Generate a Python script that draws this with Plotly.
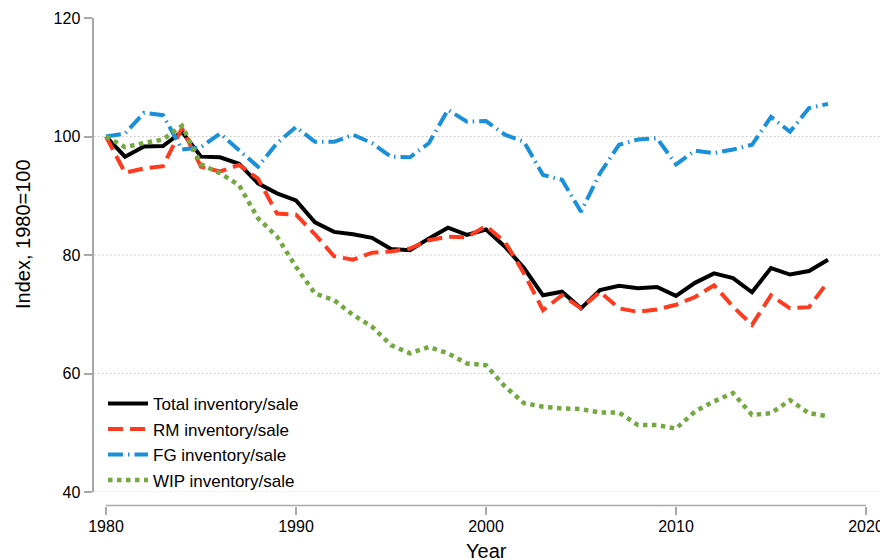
import plotly.graph_objects as go

years = list(range(1980, 2019))

total = [100.0, 96.6, 98.3, 98.4, 100.8, 96.6, 96.5, 95.4, 92.1, 90.4,
         89.2, 85.5, 83.9, 83.5, 82.9, 81.0, 80.8, 82.8, 84.6, 83.4,
         84.3, 81.4, 77.8, 73.2, 73.8, 71.0, 74.1, 74.8, 74.4, 74.6,
         73.1, 75.3, 76.9, 76.1, 73.7, 77.8, 76.7, 77.3, 79.2]

rm = [100.0, 93.9, 94.6, 95.0, 101.4, 94.9, 94.1, 95.2, 92.9, 87.0,
      86.8, 83.5, 79.8, 79.2, 80.4, 80.6, 81.1, 82.5, 83.1, 83.0,
      84.9, 82.2, 76.9, 70.7, 73.2, 71.0, 73.8, 71.0, 70.4, 70.8,
      71.6, 72.9, 74.9, 71.3, 68.2, 73.2, 71.0, 71.2, 75.5]

fg = [100.0, 100.5, 104.0, 103.6, 97.8, 98.2, 100.5, 97.7, 94.9, 98.9,
      101.6, 99.1, 99.1, 100.3, 98.9, 96.6, 96.5, 98.9, 104.5, 102.5,
      102.6, 100.3, 99.1, 93.5, 92.7, 87.3, 93.8, 98.6, 99.5, 99.7,
      95.3, 97.6, 97.2, 97.8, 98.6, 103.3, 100.8, 104.8, 105.5]

wip = [100.0, 98.2, 98.9, 99.5, 101.8, 95.3, 93.8, 91.8, 86.2, 83.1,
       78.0, 73.5, 72.4, 69.9, 67.9, 64.8, 63.4, 64.5, 63.4, 61.7,
       61.4, 57.8, 55.0, 54.4, 54.1, 54.0, 53.4, 53.4, 51.3, 51.3,
       50.7, 53.6, 55.3, 56.7, 53.0, 53.3, 55.5, 53.3, 52.8]

series_names = ["Total inventory/sale", "RM inventory/sale",
                "FG inventory/sale", "WIP inventory/sale"]

x_ticks = [1980, 1990, 2000, 2010, 2020]
y_ticks = [40, 60, 80, 100, 120]
grid_vals = [40, 60, 80, 100]

# page body has an 8px margin; figure is shrunk so screen coords match
OFF = 8
SW, SH = 888, 559
ML, MR, MT, MB = 80, 4, 18, 40          # in screen coordinates
PW = SW - ML - MR
PH = SH - MT - MB

def px_x(p):
    return (p - ML) / PW

def px_y(p):
    return (SH - MB - p) / PH

AXIS_GRAY = "#a8a8a8"
FONT = "Liberation Sans, Arial, sans-serif"

styles = [
    dict(color="#000000", width=4, dash="solid"),
    dict(color="#ff3b1f", width=4, dash="15px,7px"),
    dict(color="#1a90d8", width=4, dash="15px,5px,1.5px,5px"),
    dict(color="#74a942", width=4.5, dash="4.5px,4.5px"),
]

fig = go.Figure()
legend_ids = ["legend", "legend2", "legend3", "legend4"]
for vals, name, st, lg in zip([total, rm, fg, wip], series_names, styles, legend_ids):
    fig.add_trace(go.Scatter(x=years, y=vals, mode="lines", name=name,
                             line=dict(color=st["color"], width=st["width"], dash=st["dash"]),
                             legend=lg))

row_centers = [404, 429.5, 455, 480.5]
legend_common = dict(bgcolor="rgba(0,0,0,0)", borderwidth=0,
                     font=dict(family=FONT, size=17, color="#000"),
                     xanchor="left", yanchor="middle", x=px_x(103), itemwidth=40)
layout_legends = {}
for lg, yc in zip(legend_ids, row_centers):
    layout_legends[lg] = dict(legend_common, y=px_y(yc))

shapes = []
for v in grid_vals:
    shapes.append(dict(type="line", xref="paper", yref="y", x0=px_x(94), x1=1,
                       y0=v, y1=v, layer="below",
                       line=dict(color="#c4c4c4", width=1, dash="1.5px,2.5px")))
shapes.append(dict(type="line", xref="x", yref="paper", x0=x_ticks[0], x1=x_ticks[-1],
                   y0=px_y(505.5), y1=px_y(505.5), line=dict(color=AXIS_GRAY, width=1.5)))

xmin = 1980 - (106 - 94) / 19.0
xmax = 1980 + (884 - 106) / 19.0

fig.update_layout(
    width=SW - OFF, height=SH - OFF,
    margin=dict(l=ML - OFF, r=MR, t=MT - OFF, b=MB, autoexpand=False),
    paper_bgcolor="white", plot_bgcolor="white",
    font=dict(family=FONT, size=16, color="#000"),
    showlegend=True,
    shapes=shapes,
    xaxis=dict(domain=[px_x(94), 1], range=[xmin, xmax], anchor="free", position=px_y(505.5),
               tickvals=x_ticks, ticks="outside", ticklen=8, tickwidth=1.5, tickcolor=AXIS_GRAY,
               showline=False, showgrid=False, zeroline=False, ticklabelstandoff=-2,
               tickfont=dict(family=FONT, size=16, color="#000")),
    yaxis=dict(domain=[px_y(492), 1], range=[40, 120], anchor="free", position=px_x(92.5),
               tickvals=y_ticks, ticks="outside", ticklen=8, tickwidth=1.5, tickcolor=AXIS_GRAY,
               showline=True, linecolor=AXIS_GRAY, linewidth=2,
               showgrid=False, zeroline=False,
               tickfont=dict(family=FONT, size=16, color="#000")),
    annotations=[
        dict(text="Year", xref="x", yref="paper", x=2000, y=px_y(551), showarrow=False,
             xanchor="center", yanchor="middle", font=dict(family=FONT, size=20, color="#000")),
        dict(text="Index, 1980=100", xref="paper", yref="paper", x=px_x(23), y=px_y(234),
             showarrow=False, textangle=-90, xanchor="center", yanchor="middle",
             font=dict(family=FONT, size=20, color="#000")),
    ],
    **layout_legends,
)

fig.write_html("out.html")
